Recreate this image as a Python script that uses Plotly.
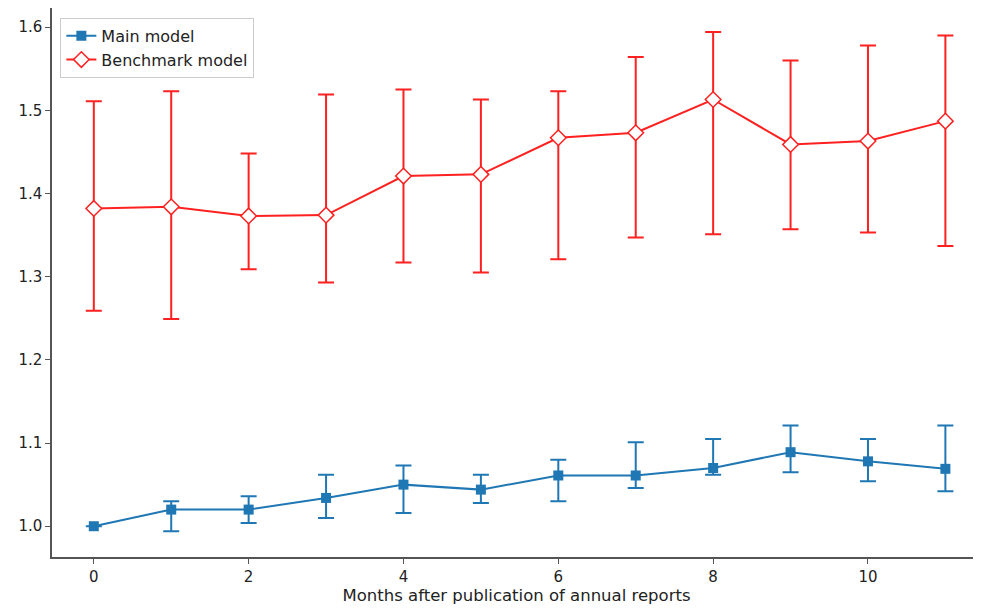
import plotly.graph_objects as go

months = list(range(12))

main_values = [1.000, 1.020, 1.020, 1.034, 1.050, 1.044, 1.061, 1.061, 1.070, 1.089, 1.078, 1.069]
main_upper = [1.000, 1.030, 1.036, 1.062, 1.073, 1.062, 1.080, 1.101, 1.105, 1.121, 1.105, 1.121]
main_lower = [1.000, 0.994, 1.004, 1.010, 1.016, 1.028, 1.030, 1.046, 1.062, 1.065, 1.054, 1.042]

bench_values = [1.382, 1.384, 1.373, 1.374, 1.421, 1.423, 1.467, 1.473, 1.513, 1.459, 1.463, 1.487]
bench_upper = [1.511, 1.523, 1.448, 1.519, 1.525, 1.513, 1.523, 1.564, 1.594, 1.560, 1.578, 1.590]
bench_lower = [1.259, 1.249, 1.309, 1.293, 1.317, 1.305, 1.321, 1.347, 1.351, 1.357, 1.353, 1.337]

x_ticks = [0, 2, 4, 6, 8, 10]
y_ticks = [1.0, 1.1, 1.2, 1.3, 1.4, 1.5, 1.6]

main_plus = [u - v for u, v in zip(main_upper, main_values)]
main_minus = [v - l for v, l in zip(main_values, main_lower)]
bench_plus = [u - v for u, v in zip(bench_upper, bench_values)]
bench_minus = [v - l for v, l in zip(bench_values, bench_lower)]

blue = "#1f77b4"
red = "#ff2020"

fig = go.Figure()
fig.add_trace(go.Scatter(
    x=months, y=main_values, name="Main model", mode="lines+markers",
    line=dict(color=blue, width=2),
    marker=dict(symbol="square", size=10, color=blue),
    error_y=dict(type="data", symmetric=False, array=main_plus, arrayminus=main_minus,
                 color=blue, thickness=2, width=8),
))
fig.add_trace(go.Scatter(
    x=months, y=bench_values, name="Benchmark model", mode="lines+markers",
    line=dict(color=red, width=2),
    marker=dict(symbol="diamond", size=12, color="white", line=dict(color=red, width=1.5)),
    error_y=dict(type="data", symmetric=False, array=bench_plus, arrayminus=bench_minus,
                 color=red, thickness=2, width=8),
))

font = "DejaVu Sans, sans-serif"
fig.update_layout(
    width=973, height=604,
    margin=dict(l=44, r=0, t=0, b=55, autoexpand=False),
    paper_bgcolor="white", plot_bgcolor="white",
    font=dict(family=font, size=15, color="#222"),
    showlegend=True,
    legend=dict(x=0.009, y=0.982, xanchor="left", yanchor="top",
                bgcolor="rgba(255,255,255,0.9)", bordercolor="#ccc", borderwidth=1,
                tracegroupgap=0, itemwidth=30,
                font=dict(size=16, family=font, color="#222")),
    xaxis=dict(range=[-0.54, 11.46], tickvals=x_ticks, ticktext=[str(t) for t in x_ticks],
               showgrid=False, zeroline=False, showline=True, linecolor="#555", linewidth=1.5,
               mirror=True, ticks="outside", ticklen=5, tickcolor="#555",
               tickfont=dict(size=15),
               title=dict(text="Months after publication of annual reports", standoff=4,
                          font=dict(size=16.5, family=font))),
    yaxis=dict(range=[0.963, 1.623], tickvals=y_ticks, ticktext=[f"{t:.1f}" for t in y_ticks],
               showgrid=False, zeroline=False, showline=True, linecolor="#555", linewidth=1.5,
               ticks="outside", ticklen=5, tickcolor="#555", tickfont=dict(size=15)),
)

fig.write_html("out.html")
